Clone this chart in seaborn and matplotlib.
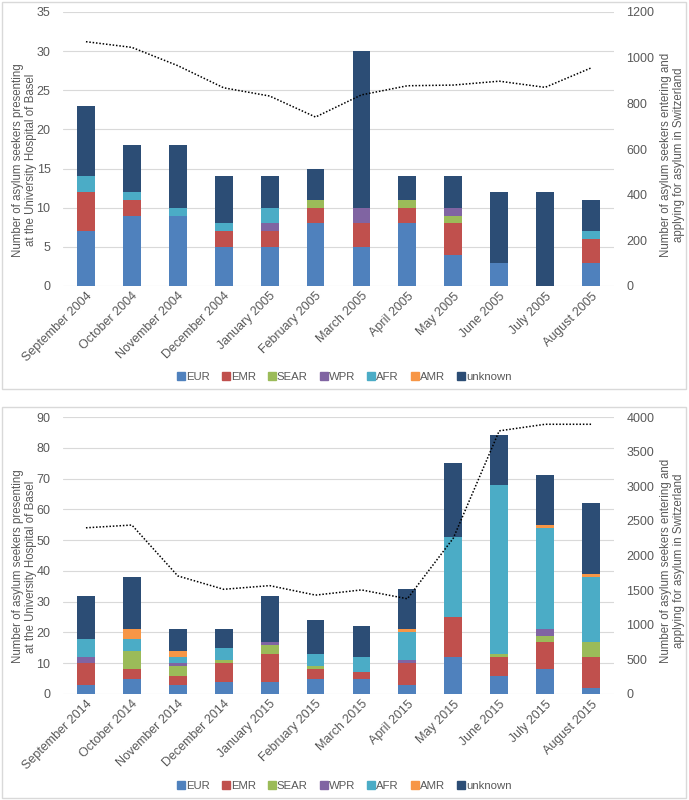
"""
Asylum seekers at the University Hospital of Basel, by WHO region,
with Swiss asylum applications on a second axis.
"""
import numpy as np
import pandas as pd
import matplotlib
matplotlib.use("Agg")
import matplotlib.pyplot as plt
from matplotlib.patches import Rectangle
from matplotlib.lines import Line2D
import seaborn as sns

# ---- data -------------------------------------------------------------
regions = ["EUR", "EMR", "SEAR", "WPR", "AFR", "AMR", "unknown"]
colors = ["#4F81BD", "#C0504D", "#9BBB59", "#8064A2", "#4BACC6", "#F79646", "#2C4D75"]

months_0405 = ["September 2004", "October 2004", "November 2004", "December 2004",
               "January 2005", "February 2005", "March 2005", "April 2005",
               "May 2005", "June 2005", "July 2005", "August 2005"]
eur_0405 = [7, 9, 9, 5, 5, 8, 5, 8, 4, 3, 0, 3]
emr_0405 = [5, 2, 0, 2, 2, 2, 3, 2, 4, 0, 0, 3]
sear_0405 = [0, 0, 0, 0, 0, 1, 0, 1, 1, 0, 0, 0]
wpr_0405 = [0, 0, 0, 0, 1, 0, 2, 0, 1, 0, 0, 0]
afr_0405 = [2, 1, 1, 1, 2, 0, 0, 0, 0, 0, 0, 1]
amr_0405 = [0, 0, 0, 0, 0, 0, 0, 0, 0, 0, 0, 0]
unknown_0405 = [9, 6, 8, 6, 4, 4, 20, 3, 4, 9, 12, 4]
swiss_0405 = [1070, 1045, 965, 868, 832, 740, 837, 877, 880, 897, 870, 955]

months_1415 = ["September 2014", "October 2014", "November 2014", "December 2014",
               "January 2015", "February 2015", "March 2015", "April 2015",
               "May 2015", "June 2015", "July 2015", "August 2015"]
eur_1415 = [3, 5, 3, 4, 4, 5, 5, 3, 12, 6, 8, 2]
emr_1415 = [7, 3, 3, 6, 9, 3, 2, 7, 13, 6, 9, 10]
sear_1415 = [0, 6, 3, 1, 3, 1, 0, 0, 0, 1, 2, 5]
wpr_1415 = [2, 0, 1, 0, 1, 0, 0, 1, 0, 0, 2, 0]
afr_1415 = [6, 4, 2, 4, 0, 4, 5, 9, 26, 55, 33, 21]
amr_1415 = [0, 3, 2, 0, 0, 0, 0, 1, 0, 0, 1, 1]
unknown_1415 = [14, 17, 7, 6, 15, 11, 10, 13, 24, 16, 16, 23]
swiss_1415 = [2400, 2440, 1705, 1512, 1565, 1428, 1503, 1375, 2250, 3800, 3895, 3895]

GREY = "#595959"
GRID = "#D9D9D9"
LEFT_LABEL = "Number of asylum seekers presenting\nat the University Hospital of Basel"
RIGHT_LABEL = "Number of asylum seekers entering and\napplying for asylum in Switzerland"

sns.set_style("white")
plt.rcParams["font.family"] = ["Liberation Sans", "DejaVu Sans"]


def draw_panel(fig, rect, months, series, swiss, ymax, ystep, y2max, y2step, legend_y):
    ax = fig.add_axes(rect)
    ax.patch.set_alpha(0)
    df = pd.DataFrame(dict(zip(regions, series)), index=months)
    cum = df.cumsum(axis=1)

    # stacked bars: draw the cumulative totals from the top segment down
    for reg, col in reversed(list(zip(regions, colors))):
        sns.barplot(x=months, y=cum[reg].values, color=col, width=0.39,
                    saturation=1, errorbar=None, ax=ax, zorder=2, linewidth=0)

    ax.set_ylim(0, ymax)
    ax.set_yticks(np.arange(0, ymax + 1, ystep))
    ax.set_xlim(-0.5, len(months) - 0.5)
    ax.xaxis.grid(False)
    ax.yaxis.grid(True, color=GRID, linewidth=0.8)
    ax.set_axisbelow(True)
    ax.tick_params(axis="y", left=False, right=False, length=0, pad=9,
                   labelsize=9, labelcolor=GREY)
    ax.tick_params(axis="x", bottom=False, top=False, length=0, pad=3,
                   labelsize=9, labelcolor=GREY)
    plt.setp(ax.get_xticklabels(), rotation=45, ha="right", rotation_mode="anchor")
    ax.set_xlabel("")
    ax.set_ylabel(LEFT_LABEL, fontsize=8.3, color=GREY, linespacing=1.1)
    ax.yaxis.set_label_coords(-0.047, 0.46)

    ax2 = ax.twinx()
    ax2.patch.set_visible(False)
    sns.lineplot(x=np.arange(len(months)), y=swiss, ax=ax2, color="black",
                 linewidth=1.1, linestyle=(0, (1, 1.2)), sort=False)
    ax2.set_ylim(0, y2max)
    ax2.set_yticks(np.arange(0, y2max + 1, y2step))
    ax2.grid(False)
    ax2.tick_params(axis="y", left=False, right=False, length=0, pad=9,
                    labelsize=9, labelcolor=GREY)
    ax2.set_ylabel(RIGHT_LABEL, fontsize=8.3, color=GREY, linespacing=1.1)
    ax2.yaxis.set_label_coords(1.084, 0.48)

    for a in (ax, ax2):
        for s in a.spines.values():
            s.set_visible(False)

    handles = [Line2D([], [], marker="s", linestyle="", markersize=5.5,
                      markerfacecolor=c, markeredgecolor=c) for c in colors]
    fig.legend(handles, regions, loc="center", bbox_to_anchor=(0.5, legend_y),
               ncol=7, frameon=False, fontsize=8.2, handlelength=0.6,
               handletextpad=0.15, columnspacing=1.1, labelcolor=GREY)
    return ax


fig = plt.figure(figsize=(6.89, 8), dpi=100)

# chart area frames
for y0, h in [(1 - 389 / 800, 387 / 800), (1 - 798 / 800, 391 / 800)]:
    fig.patches.append(Rectangle((2 / 689, y0), 684 / 689, h, transform=fig.transFigure,
                                 facecolor="white", edgecolor="#D9D9D9", linewidth=1.0,
                                 zorder=-5))

series_0405 = [eur_0405, emr_0405, sear_0405, wpr_0405, afr_0405, amr_0405, unknown_0405]
series_1415 = [eur_1415, emr_1415, sear_1415, wpr_1415, afr_1415, amr_1415, unknown_1415]

draw_panel(fig, [63 / 689, 1 - 286 / 800, 551 / 689, 274 / 800], months_0405,
           series_0405, swiss_0405, 35, 5, 1200, 200, 1 - 377 / 800)
draw_panel(fig, [63 / 689, 1 - 694 / 800, 551 / 689, 277 / 800], months_1415,
           series_1415, swiss_1415, 90, 10, 4000, 500, 1 - 786 / 800)

fig.savefig("out.png", dpi=100)
plt.close(fig)
